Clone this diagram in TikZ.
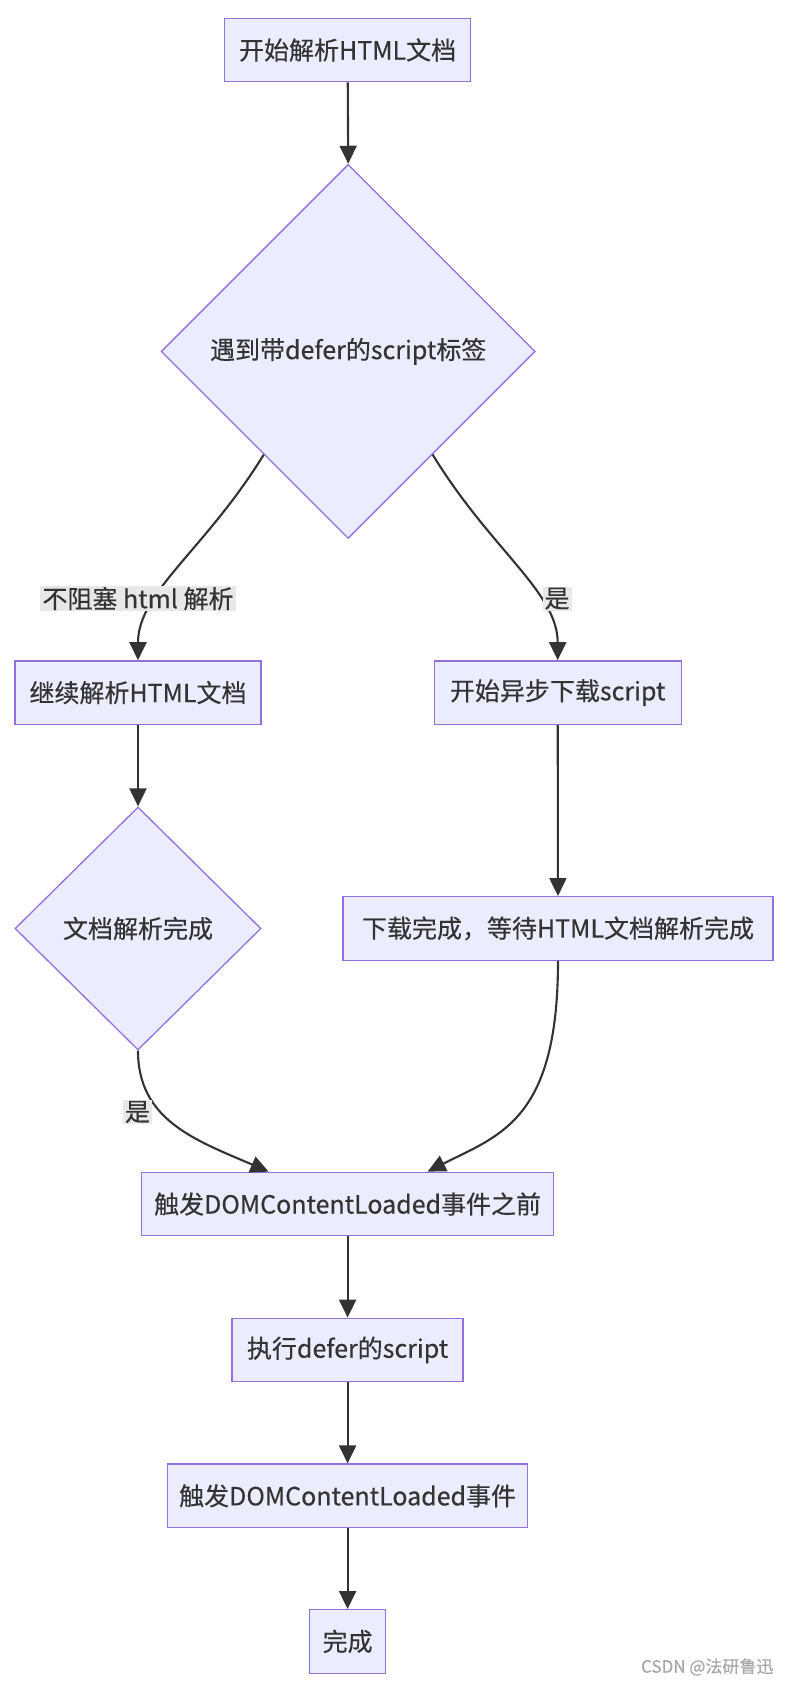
\documentclass[tikz,border=0pt]{standalone}
\usepackage{fontspec}
\newfontfamily\cjk[FakeBold=0.4]{Noto Sans CJK SC}
\usetikzlibrary{shapes.geometric,arrows.meta,calc}
\definecolor{nodefill}{HTML}{ECECFF}
\definecolor{nodeline}{HTML}{9370DB}
\definecolor{edgecol}{HTML}{333333}
\definecolor{labelbg}{HTML}{E8E8E8}
\definecolor{marktext}{HTML}{A8A8A8}
\begin{document}
\begin{tikzpicture}[x=1pt,y=-1pt,
  txt/.style={font=\cjk\fontsize{25}{29}\selectfont, text=edgecol},
  box/.style={txt, draw=nodeline, fill=nodefill, line width=1.3pt, minimum height=63.5pt, inner xsep=6pt},
  dia/.style={txt, diamond, draw=nodeline, fill=nodefill, line width=1.3pt, inner sep=0pt},
  flow/.style={draw=edgecol, line width=2.1pt, -{Triangle[length=18pt,width=17pt]}},
  elabel/.style={txt, fill=labelbg, inner xsep=2pt, inner ysep=1pt}
]
\useasboundingbox (0,0) rectangle (792,1686);
\fill[white] (0,0) rectangle (792,1686);

\node[box, minimum width=246pt] (start) at (347.6,50) {开始解析HTML文档};
\node[dia, minimum width=374pt, minimum height=374pt] (d1) at (348.2,351.4) {遇到带defer的script标签};
\node[box, minimum width=246pt] (cont) at (138,692.6) {继续解析HTML文档};
\node[box, minimum width=247pt] (dl) at (557.7,692.6) {开始异步下载script};
\node[dia, minimum width=246pt, minimum height=243pt] (d2) at (138,928.5) {文档解析完成};
\node[box, minimum width=430pt] (wait) at (558,928.4) {下载完成，等待HTML文档解析完成};
\node[box, minimum width=411.6pt] (before) at (347.6,1204) {触发DOMContentLoaded事件之前};
\node[box, minimum width=231pt] (exec) at (347.6,1350) {执行defer的script};
\node[box, minimum width=360pt] (fire) at (347.6,1495.8) {触发DOMContentLoaded事件};
\node[box, minimum width=76pt] (done) at (347.6,1641.4) {完成};

\draw[flow] (start) -- (d1.north);
\draw[flow] ($(d1.west)!0.55!(d1.south)$) .. controls (205,550) and (138,592) .. (cont.north);
\draw[flow] ($(d1.east)!0.55!(d1.south)$) .. controls (491,550) and (557.7,592) .. (dl.north);
\draw[flow] (cont) -- (d2.north);
\draw[flow] (dl) -- (wait);
\draw[flow] (d2.south) .. controls (138,1120) and (195,1140) .. ([xshift=-79pt]before.north);
\draw[flow] (wait.south) .. controls (558,1120) and (500,1135) .. ([xshift=80pt]before.north);
\draw[flow] (before) -- (exec);
\draw[flow] (exec) -- (fire);
\draw[flow] (fire) -- (done);

\node[elabel] (l1) at (138,598.6) {不阻塞 html 解析};
\node[elabel] (l2) at (557,598.6) {是};
\node[elabel] (l3) at (137.5,1112) {是};

\node[font=\cjk\fontsize{17}{20}\selectfont, text=marktext, anchor=east] (wm) at (777,1667) {CSDN @法研鲁迅};
\end{tikzpicture}
\end{document}
